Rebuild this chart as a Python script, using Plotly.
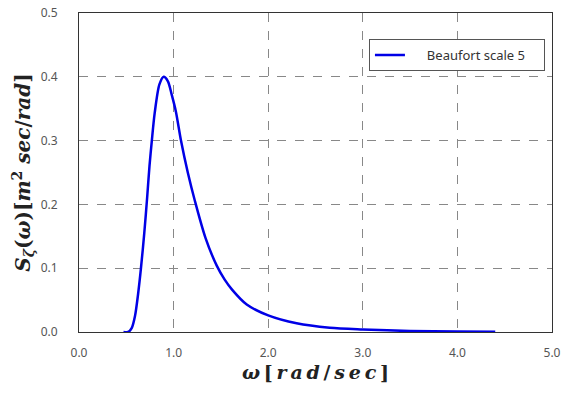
import plotly.graph_objects as go

omega = [0.47, 0.52, 0.557, 0.592, 0.625, 0.655, 0.69, 0.72, 0.745, 0.77, 0.80, 0.85, 0.895,
         0.94, 0.98, 1.025, 1.078, 1.15, 1.226, 1.336, 1.456, 1.54, 1.62, 1.773, 2.0, 2.3, 2.65,
         3.0, 3.5, 4.0, 4.4]
S = [0.0, 0.0, 0.006, 0.025, 0.06, 0.10, 0.155, 0.21, 0.26, 0.30, 0.343, 0.388, 0.400,
     0.393, 0.372, 0.345, 0.30, 0.25, 0.205, 0.148, 0.104, 0.082, 0.066, 0.043, 0.026, 0.0136,
     0.0067, 0.004, 0.0015, 0.0007, 0.0003]
series_name = "Beaufort scale 5"
x_ticks = [0, 1, 2, 3, 4, 5]
y_ticks = [0, 0.1, 0.2, 0.3, 0.4, 0.5]

nb = "\u00a0"
fig = go.Figure()
fig.add_trace(go.Scatter(x=omega, y=S, mode="lines", name=nb * 5 + series_name + nb * 4,
                         line=dict(color="#0000E6", width=2.5, shape="spline", smoothing=0.8)))

tickfont = dict(family="Noto Sans, DejaVu Sans, sans-serif", size=12, color="#555555")
titlefont = dict(family="DejaVu Serif, Liberation Serif, serif", size=20, color="#222222")
xtitlefont = dict(family="DejaVu Serif, Liberation Serif, serif", size=19, color="#222222")
ts = "\u2009"

x_title = ("<b><i>ω</i>" + ts + "[" + ts + "<i>r" + ts + "a" + ts + "d</i>" + ts + "/" + ts
           + "<i>s" + ts + "e" + ts + "c</i>" + ts + "]</b>")
y_title = ("<b><i>S</i><sub><i>ζ</i></sub>(<i>ω</i>)[<i>m</i><sup>2</sup> "
           "<i>sec</i>/<i>rad</i>]</b>")

fig.update_layout(
    width=564, height=395,
    margin=dict(l=79, r=12, t=13, b=63),
    paper_bgcolor="white", plot_bgcolor="white",
    showlegend=True,
    legend=dict(x=0.613, y=0.918, xanchor="left", yanchor="top",
                bordercolor="#555555", borderwidth=1, bgcolor="white",
                font=dict(family="Noto Sans, DejaVu Sans, sans-serif", size=13, color="#333333")),
    xaxis=dict(range=[0, 5], tickvals=x_ticks, tickformat=".1f", automargin=False,
               ticklabeloverflow="allow",
               showgrid=True, gridcolor="#888888", griddash="dash", gridwidth=1,
               showline=True, linecolor="#333333", linewidth=1, mirror=True,
               zeroline=False, ticks="", ticklabelstandoff=10, tickfont=tickfont,
               title=dict(text=x_title, font=xtitlefont, standoff=4)),
    yaxis=dict(range=[0, 0.5], tickvals=y_ticks, tickformat=".1f", automargin=False,
               ticklabeloverflow="allow",
               showgrid=True, gridcolor="#888888", griddash="dash", gridwidth=1,
               showline=True, linecolor="#333333", linewidth=1, mirror=True,
               zeroline=False, ticks="", ticklabelstandoff=18, tickfont=tickfont,
               title=dict(text=y_title, font=titlefont, standoff=4)),
)

fig.write_html("out.html", config={"displayModeBar": False},
               post_script="document.body.style.margin='0';document.body.style.overflow='hidden';")
